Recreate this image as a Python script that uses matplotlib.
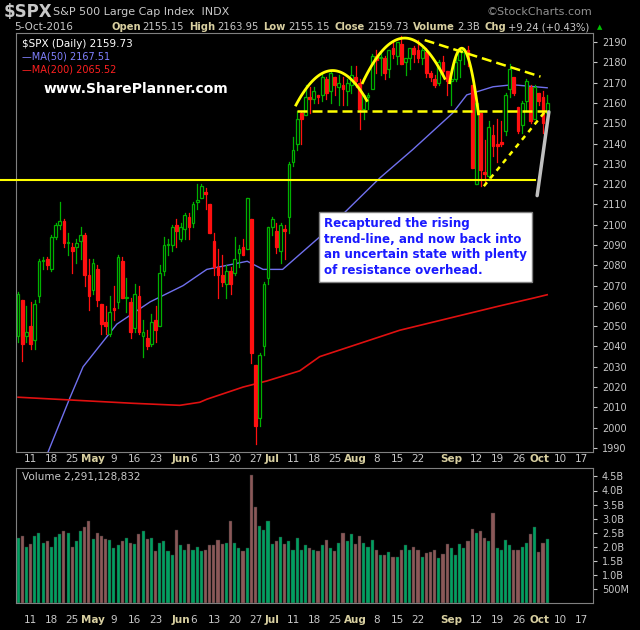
import matplotlib
matplotlib.use("Agg")
import matplotlib.pyplot as plt
import numpy as np
from matplotlib.patches import Rectangle

opens = [2045,2063,2045,2050,2043,2065,2082,2083,2078,2094,2100,2102,2091,2089,2089,2092,2095,2075,
 2068,2078,2061,2052,2046,2059,2062,2082,2064,2062,2049,2065,2045,2044,2041,2053,2050,2077,2090,2090,2100,
 2093,2098,2104,2101,2111,2113,2116,2110,2092,2079,2075,2071,2077,2076,2086,2089,2088,2103,2031,2005,2040,2074,
 2099,2097,2087,2098,2104,2131,2140,2155,2154,2163,2162,2164,2164,2172,2166,2173,2168,2169,2166,2169,
 2173,2170,2157,2163,2167,2183,2182,2182,2177,2187,2183,2189,2180,2182,2187,2186,2182,2185,2175,2172,2170,2180,2176,
 2171,2172,2181,2185,2186,2169,2120,2155,2126,2124,2144,2140,2141,2146,2167,2173,2158,2149,2161,2168,2152,
 2165,2163,2155]
highs = [2067,2063,2060,2062,2063,2083,2084,2084,2095,2101,2111,2103,2096,2091,2093,2099,2096,2083,
 2083,2080,2061,2060,2065,2070,2085,2084,2074,2064,2071,2070,2053,2048,2056,2060,2080,2094,2093,2100,2103,
 2101,2106,2106,2111,2120,2120,2118,2110,2096,2088,2085,2080,2079,2094,2090,2093,2113,2103,2031,2037,2072,2099,
 2104,2101,2101,2100,2131,2143,2156,2156,2169,2168,2168,2164,2175,2173,2176,2173,2174,2173,2172,2178,
 2178,2172,2163,2165,2184,2186,2185,2183,2186,2190,2187,2193,2181,2183,2188,2191,2187,2187,2176,2174,2181,2183,2176,
 2173,2182,2186,2187,2188,2169,2163,2155,2142,2151,2149,2152,2151,2165,2179,2172,2158,2161,2172,2169,2169,
 2165,2166,2164]
lows = [2042,2033,2042,2039,2039,2062,2078,2078,2077,2093,2098,2089,2085,2076,2081,2083,2070,2058,
 2066,2060,2046,2046,2045,2053,2059,2064,2057,2044,2047,2046,2035,2039,2040,2042,2050,2075,2085,2087,2089,
 2092,2093,2093,2099,2108,2113,2108,2096,2075,2064,2070,2064,2066,2075,2079,2085,2088,2032,1992,2001,2036,2071,
 2095,2086,2081,2083,2096,2129,2137,2140,2154,2155,2160,2160,2161,2162,2160,2164,2159,2159,2159,2165,
 2168,2147,2152,2157,2168,2175,2174,2172,2173,2182,2179,2179,2174,2177,2180,2180,2179,2173,2171,2168,2169,2174,2164,
 2159,2171,2173,2179,2178,2128,2120,2119,2120,2122,2134,2131,2139,2144,2163,2164,2145,2145,2156,2150,2153,
 2159,2145,2155]
closes = [2066,2041,2047,2041,2061,2082,2082,2080,2094,2100,2102,2091,2091,2087,2091,2095,2075,2065,
 2081,2063,2051,2050,2057,2058,2084,2064,2064,2047,2066,2047,2047,2040,2052,2048,2076,2090,2090,2099,2097,
 2099,2105,2099,2110,2112,2119,2115,2096,2079,2075,2072,2077,2071,2083,2088,2085,2113,2037,2001,2036,2071,2099,
 2103,2089,2100,2097,2130,2137,2152,2152,2163,2162,2166,2163,2173,2165,2175,2169,2170,2167,2170,2174,
 2171,2157,2164,2164,2183,2181,2182,2175,2186,2184,2190,2179,2182,2187,2184,2182,2186,2175,2173,2169,2180,2176,2171,
 2171,2180,2186,2186,2182,2128,2160,2127,2125,2148,2139,2139,2140,2164,2177,2165,2146,2160,2171,2151,2168,
 2161,2150,2160]
volume_b = [2.3,2.4,2.0,2.1,2.4,2.5,2.15,2.2,2.0,2.35,
 2.45,2.55,2.5,2.0,2.2,2.55,2.7,2.9,2.27,2.5,
 2.38,2.27,2.25,1.95,2.05,2.2,2.3,2.15,2.1,2.45,
 2.55,2.27,2.3,1.85,2.15,2.2,1.85,1.7,2.6,2.05,
 1.9,2.1,1.9,2.0,1.85,1.9,2.05,2.05,2.25,2.1,
 2.15,2.9,2.15,1.95,1.85,1.95,4.55,3.4,2.75,2.58,
 2.9,2.1,2.2,2.35,2.1,2.2,1.9,2.3,1.9,2.05,
 1.95,1.9,1.85,2.05,2.25,1.95,1.85,2.15,2.5,2.2,
 2.45,2.1,2.4,2.15,2.0,2.25,1.9,1.72,1.72,1.82,
 1.62,1.65,1.9,2.05,1.9,2.0,1.9,1.65,1.77,1.8,1.9,
 1.6,1.75,2.1,1.95,1.72,2.1,1.95,2.2,2.63,2.5,
 2.55,2.3,2.2,3.2,1.95,1.9,2.25,2.05,1.9,1.9,
 2.0,2.15,2.45,2.7,1.8,2.15,2.27]
ma50_idx = [0,7,12.5,15.6,23.7,31.7,39.6,45.3,55,58.8,63.5,72.4,86.8,94.7,104.3,107.7,114,118.7,127]
ma50_val = [1955,1987,2015,2030,2051,2062,2070,2078,2082,2078,2078,2094,2123,2137,2155,2164,2168,2169,2167.5]
ma200_idx = [0,27.6,38.8,43.6,45.3,54,59.7,67.6,72.4,91.6,115.6,124,127]
ma200_val = [2015,2012,2011,2012.5,2014,2020,2023,2028,2035,2048,2060,2064,2065.5]
tick_idx = [3,8,13,18,23,28,33,39,42,47,52,57,61,66,71,76,81,86,91,96,104,110,115,120,125,130,135]
tick_lab = ["11","18","25","May","9","16","23","Jun","6","13","20","27","Jul","11","18","25","Aug","8","15","22","Sep","12","19","26","Oct","10","17"]
month_labels = {"May","Jun","Jul","Aug","Sep","Oct"}

BG = "black"; GRID = "#808080"; TXT = "#c8c8c8"; TAN = "#d8cfa0"
fig = plt.figure(figsize=(6.4, 6.3), dpi=100, facecolor=BG)
W, H = 640, 630
def rect(l, t, r, b):
    return [l/W, 1-b/H, (r-l)/W, (b-t)/H]
ax = fig.add_axes(rect(16, 33, 593, 452), facecolor=BG)
axv = fig.add_axes(rect(16, 468, 593, 603), facecolor=BG)
n = len(closes)
x = np.arange(n)
for i in range(n):
    up = closes[i] >= opens[i]
    col = "#00b000" if up else "#ff1010"
    ax.plot([i, i], [lows[i], highs[i]], color=col, lw=0.9, zorder=3)
    lo, hi = min(opens[i], closes[i]), max(opens[i], closes[i])
    ax.add_patch(Rectangle((i-0.33, lo), 0.66, max(hi-lo, 0.6), facecolor=BG if up else col,
                           edgecolor=col, lw=0.9, zorder=4))
ax.plot(ma50_idx, ma50_val, color="#7070ee", lw=1.0, zorder=2)
ax.plot(ma200_idx, ma200_val, color="#e01010", lw=1.2, zorder=2)
Y = "#ffff00"
ax.plot([-5, 124], [2122, 2122], color=Y, lw=1.5, clip_on=False, zorder=5)
ax.plot([67, 127], [2156, 2156], color=Y, lw=1.8, ls=(0, (4, 2)), zorder=5)
ax.plot([97.6, 125.4], [2191, 2173], color=Y, lw=1.8, ls=(0, (4, 2)), zorder=5)
ax.plot([111.8, 127], [2119, 2157], color=Y, lw=1.8, ls=(0, (2, 2)), zorder=5)
for a, p, b, ya, yp, yb in [(66.7, 75.5, 83.7, 2159, 2176, 2160),
                             (82.7, 92.8, 102.4, 2170, 2192, 2169),
                             (103.6, 106.5, 110.5, 2170, 2187, 2169)]:
    t = np.linspace(a, b, 60)
    k = (yp - ya) / (p - a) ** 2
    ax.plot(t, yp - k * (t - p) ** 2, color=Y, lw=2, zorder=5)
ax.set_xlim(-0.5, 138)
ax.set_ylim(1988, 2194.5)
ax.set_yticks(range(1990, 2191, 10))
for a_ in (ax, axv):
    for s in a_.spines.values():
        s.set_color(GRID)
    a_.yaxis.tick_right()
    a_.tick_params(axis="y", colors=TXT, labelsize=7, length=3, direction="out")
    a_.set_xticks([])
ax.text(0.01, 0.985, "$SPX (Daily) 2159.73", transform=ax.transAxes, color="white", fontsize=7.5, va="top")
ax.text(0.01, 0.955, "\u2014MA(50) 2167.51", transform=ax.transAxes, color="#8080ff", fontsize=7, va="top")
ax.text(0.01, 0.925, "\u2014MA(200) 2065.52", transform=ax.transAxes, color="#ff2020", fontsize=7, va="top")
ax.text(6, 2165, "www.SharePlanner.com", color="white", fontsize=10, fontweight="bold")
ax.annotate("", xy=(127.5, 2157), xytext=(124.5, 2113),
            arrowprops=dict(arrowstyle="-", color="#c0c0c0", lw=2.5), zorder=6)
fig.text(324/W, 1-247/H, "Recaptured the rising\ntrend-line, and now back into\nan uncertain state with plenty\nof resistance overhead.",
         color="#1a1aff", fontsize=8.6, fontweight="bold", va="center", ha="left", linespacing=1.25, zorder=7,
         bbox=dict(facecolor="white", edgecolor="#808080", boxstyle="square,pad=0.45"))

vcol = []
for i in range(n):
    prev = closes[i-1] if i > 0 else opens[0]
    vcol.append("#00a060" if closes[i] >= prev else "#8b5858")
axv.bar(x, volume_b, width=0.75, color=vcol, edgecolor="#303030", lw=0.3)
axv.set_xlim(-0.5, 138)
axv.set_ylim(0, 4.8)
axv.set_yticks([0.5, 1, 1.5, 2, 2.5, 3, 3.5, 4, 4.5])
axv.set_yticklabels(["500M", "1.0B", "1.5B", "2.0B", "2.5B", "3.0B", "3.5B", "4.0B", "4.5B"])
axv.text(0.01, 0.97, "Volume 2,291,128,832", transform=axv.transAxes, color=TXT, fontsize=7.5, va="top")

for ypos in (459, 620):
    for ti, tl in zip(tick_idx, tick_lab):
        bold = tl in month_labels
        fig.text((18 + ti*4.17)/W, 1-ypos/H, tl, color=TAN if bold else TXT, fontsize=7.5,
                 fontweight="bold" if bold else "normal", ha="center", va="center")

fig.text(4/W, 1-12/H, "$SPX", color=TXT, fontsize=12, fontweight="bold", va="center")
fig.text(53/W, 1-12/H, "S&P 500 Large Cap Index  INDX", color=TXT, fontsize=8, va="center")
fig.text(592/W, 1-12/H, "\u00a9StockCharts.com", color="#909090", fontsize=8, ha="right", va="center")
fig.text(14/W, 1-27/H, "5-Oct-2016", color=TXT, fontsize=7.5, va="center")
parts = [("Open", 1), ("2155.15", 0), ("High", 1), ("2163.95", 0), ("Low", 1), ("2155.15", 0),
         ("Close", 1), ("2159.73", 0), ("Volume", 1), ("2.3B", 0), ("Chg", 1), ("+9.24 (+0.43%)", 0)]
renderer = fig.canvas.get_renderer()
xs = 111
for txt, b in parts:
    t = fig.text(xs/W, 1-27/H, txt, color=TAN if b else TXT, fontsize=7.2,
                 fontweight="bold" if b else "normal", va="center")
    bb = t.get_window_extent(renderer)
    xs += bb.width + (2 if b else 5)
fig.text((xs+2)/W, 1-27/H, "\u25b2", color="#00c000", fontsize=5, ha="left", va="center")
fig.savefig("out.png", dpi=100, facecolor=BG)
